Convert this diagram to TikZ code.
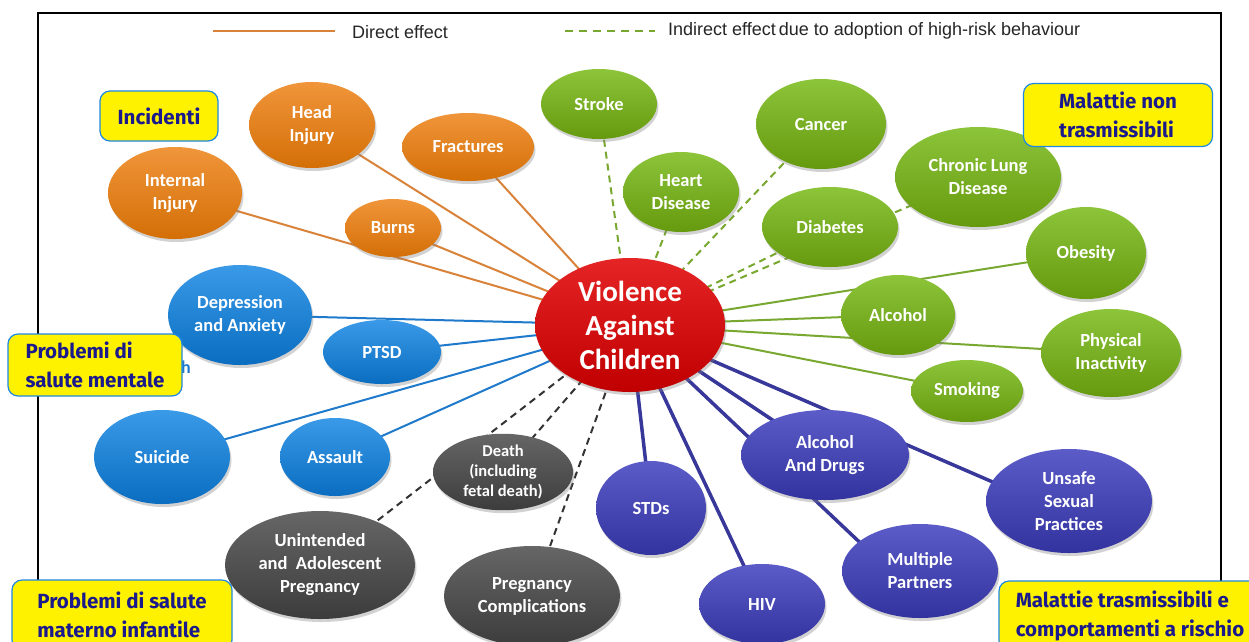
\documentclass[tikz,border=0pt]{standalone}
\usepackage{fontspec}
\setmainfont{Carlito}
\newfontfamily\legfont{Liberation Sans}
\newfontfamily\boxfont{Fira Sans}
\usetikzlibrary{shapes.geometric,shadows,backgrounds}
\definecolor{orB}{HTML}{D46F07}\definecolor{orT}{HTML}{F0953A}\definecolor{orL}{HTML}{D9823A}
\definecolor{grB}{HTML}{669A0E}\definecolor{grT}{HTML}{8CC43A}\definecolor{grL}{HTML}{78A830}
\definecolor{blB}{HTML}{0A6DC0}\definecolor{blT}{HTML}{3A9AE8}\definecolor{blL}{HTML}{1F7ACB}
\definecolor{gyB}{HTML}{3C3C3C}\definecolor{gyT}{HTML}{666666}\definecolor{gyL}{HTML}{333333}
\definecolor{puB}{HTML}{3333A0}\definecolor{puT}{HTML}{5C5CC8}\definecolor{puL}{HTML}{38389A}
\definecolor{rdB}{HTML}{C00000}\definecolor{rdT}{HTML}{E52525}
\definecolor{boxblue}{HTML}{1E88E5}\definecolor{navyt}{HTML}{1A1A8C}
\pgfdeclarelayer{bgzero}
\pgfsetlayers{bgzero,background,main}
\begin{document}
\begin{tikzpicture}[x=1pt,y=-1pt,
  bub/.style={ellipse, inner sep=0pt, text=white, align=center,
    font=\bfseries\fontsize{18.5}{23}\selectfont,
    drop shadow={opacity=0.35, shadow xshift=1.5pt, shadow yshift=-3pt}},
  sz/.style 2 args={minimum width=#1, minimum height=#2},
  orn/.style={bub, top color=orT, bottom color=orB},
  grn/.style={bub, top color=grT, bottom color=grB},
  blu/.style={bub, top color=blT, bottom color=blB},
  gry/.style={bub, top color=gyT, bottom color=gyB},
  pur/.style={bub, top color=puT, bottom color=puB},
  oline/.style={orL, line width=2pt},
  gline/.style={grL, line width=2pt},
  gdash/.style={grL, line width=2pt, dash pattern=on 7pt off 5pt},
  bline/.style={blL, line width=2pt},
  kdash/.style={gyL, line width=2pt, dash pattern=on 7pt off 5pt},
  pline/.style={puL, line width=3.5pt},
  ybox/.style={rounded corners=10pt, fill=yellow, draw=boxblue, line width=1.2pt,
    text=navyt, align=left, inner xsep=0pt,
    font=\boxfont\bfseries\fontsize{20.5}{29}\selectfont},
  legtxt/.style={anchor=west, inner sep=0pt, text=black!85,
    font=\legfont\fontsize{18}{20}\selectfont}
]
\useasboundingbox (0,0) rectangle (1249,641);
\begin{pgfonlayer}{bgzero}
\fill[white] (0,0) rectangle (1249,641);
\draw[line width=1.3pt] (38,13) rectangle (1221,700);
\end{pgfonlayer}

% legend
\coordinate (la) at (213,31); \coordinate (lb) at (335,31);
\coordinate (lc) at (565,31); \coordinate (ld) at (655,31);
\draw[oline] (la) -- (lb);
\draw[gdash, dash pattern=on 8pt off 6pt] (lc) -- (ld);
\node[legtxt] (lt1) at (352,32) {Direct effect};
\node[legtxt] (lt2) at (668,31) {Indirect effect\,due to adoption of high-risk behaviour};

% center
\node[ellipse, inner sep=0pt, sz={190pt}{134pt}, top color=rdT, bottom color=rdB,
  text=white, align=center, font=\bfseries\fontsize{29}{34}\selectfont,
  drop shadow={opacity=0.35, shadow xshift=1.5pt, shadow yshift=-3pt}]
  (vac) at (630,325) {Violence\\Against\\Children};

% orange
\node[orn, sz={126pt}{86pt}] (hi) at (312,125) {Head\\Injury};
\node[orn, sz={132pt}{68pt}] (fr) at (468,147) {Fractures};
\node[orn, sz={134pt}{92pt}] (ii) at (175,193) {Internal\\Injury};
\node[orn, sz={96pt}{58pt}] (bu) at (393,228) {Burns};

% green
\node[grn, sz={116pt}{70pt}] (st) at (599,104) {Stroke};
\node[grn, sz={116pt}{80pt}] (hd) at (681,192) {Heart\\Disease};
\node[grn, sz={130pt}{90pt}] (ca) at (821,124) {Cancer};
\node[grn, sz={136pt}{80pt}] (di) at (830,227) {Diabetes};
\node[grn, sz={166pt}{100pt}] (cl) at (978,177) {Chronic Lung\\Disease};
\node[grn, sz={120pt}{92pt}] (ob) at (1086,253) {Obesity};
\node[grn, sz={114pt}{80pt}] (al) at (898,315) {Alcohol};
\node[grn, sz={140pt}{88pt}] (pi) at (1111,353) {Physical\\Inactivity};
\node[grn, sz={112pt}{62pt}] (sm) at (967,391) {Smoking};

% blue
\node[text=blL, font=\bfseries\fontsize{18}{20}\selectfont, inner sep=0pt, anchor=west] (hh) at (181,367) {h};
\node[blu, sz={144pt}{100pt}] (da) at (240,315) {Depression\\and Anxiety};
\node[blu, sz={118pt}{64pt}] (pt) at (382,352) {PTSD};
\node[blu, sz={136pt}{94pt}] (su) at (162,457) {Suicide};
\node[blu, sz={110pt}{78pt}] (as) at (335,457) {Assault};

% gray
\node[gry, sz={140pt}{64pt}, font=\bfseries\fontsize{16.5}{20}\selectfont] (de) at (503,472) {Death\\(including\\fetal death)};
\node[gry, sz={190pt}{108pt}] (up) at (320,565) {Unintended\\and~~Adolescent\\Pregnancy};
\node[gry, sz={176pt}{100pt}] (pc) at (532,596) {Pregnancy\\Complications};

% purple
\node[pur, sz={110pt}{94pt}] (sd) at (651,508) {STDs};
\node[pur, sz={126pt}{80pt}] (hv) at (762,604) {HIV};
\node[pur, sz={168pt}{90pt}] (ad) at (825,455) {Alcohol\\And Drugs};
\node[pur, sz={166pt}{104pt}] (us) at (1069,501) {Unsafe\\Sexual\\Practices};
\node[pur, sz={156pt}{94pt}] (mp) at (920,571) {Multiple\\Partners};

% connectors behind nodes
\begin{pgfonlayer}{background}
\foreach \n in {hi,fr,ii,bu} \draw[oline] (vac.center) -- (\n.center);
\foreach \n in {da,pt,su,as} \draw[bline] (vac.center) -- (\n.center);
\foreach \n in {st,hd,ca,di,cl} \draw[gdash] (vac.center) -- (\n.center);
\foreach \n in {ob,al,pi,sm} \draw[gline] (vac.center) -- (\n.center);
\foreach \n in {de,up,pc} \draw[kdash] (vac.center) -- (\n.center);
\foreach \n in {sd,hv,ad} \draw[pline] (vac.center) -- (\n.center);
\draw[pline] (vac.center) -- ([yshift=-14pt]us.center);
\draw[pline] (vac.center) -- ([xshift=-30pt]mp.center);
\end{pgfonlayer}

% yellow labels
\node[ybox, sz={118pt}{50pt}, align=center] (yb1) at (159,116) {Incidenti};
\node[ybox, sz={189pt}{63pt}] (yb2) at (1118,115) {Malattie non\\trasmissibili};
\node[ybox, sz={174pt}{62pt}] (yb3) at (95,365) {Problemi di\\salute mentale};
\node[ybox, sz={220pt}{70pt}] (yb4) at (122,615) {Problemi di salute\\materno infantile};
\node[ybox, sz={262pt}{70pt}] (yb5) at (1130,616) {Malattie trasmissibili e\\comportamenti a rischio};
\end{tikzpicture}
\end{document}
